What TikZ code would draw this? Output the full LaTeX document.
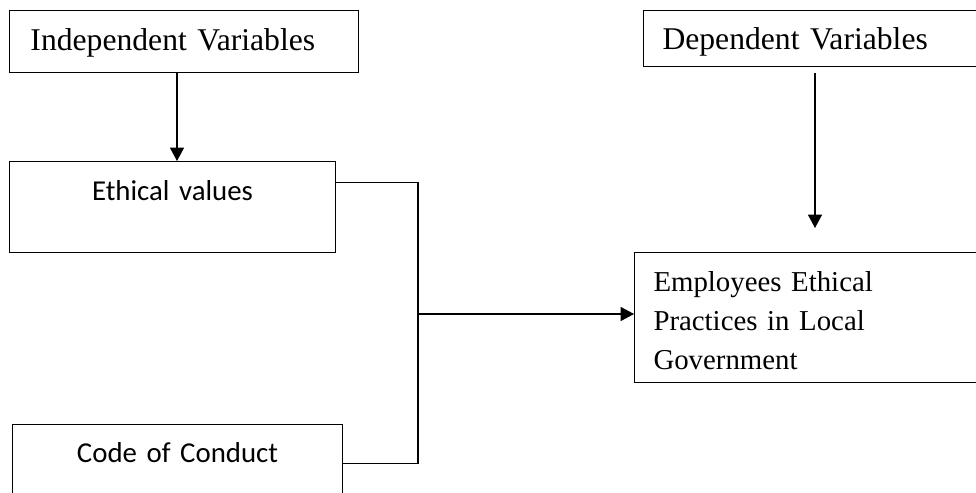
\documentclass[tikz,border=0pt]{standalone}
\usepackage{fontspec}
\setmainfont{Liberation Serif}
\newfontfamily\calibri{Carlito}
\usetikzlibrary{arrows.meta, positioning}

\begin{document}
\begin{tikzpicture}[
    x=0.025cm, y=-0.025cm,
    varbox/.style={draw, line width=0.7pt, inner ysep=0pt, inner xsep=0.5cm, align=left,
      anchor=north west, font=\fontsize{22.5}{27}\selectfont},
    factor/.style={draw, line width=0.7pt, inner sep=0pt, align=center,
      anchor=north west, font=\calibri\fontsize{20.5}{25}\selectfont},
    outcome/.style={varbox, font=\fontsize{20.5}{27.7}\selectfont},
    link/.style={line width=0.75pt},
    arr/.style={link, -{Triangle[length=9.5pt,width=10pt]}}
  ]
  \useasboundingbox (0,0) rectangle (976,493);

  % variable headers
  \node[varbox, inner xsep=0.525cm, text width=7.675cm, text height=1.0cm, text depth=0.55cm] (iv) at (9,10) {Independent Variables};
  \node[varbox, inner xsep=0.475cm, text width=8.0cm, text height=0.975cm, text depth=0.425cm] (dv) at (643,10) {Dependent Variables};

  % factors
  \node[factor, text width=8.15cm, text height=0.975cm, text depth=1.3cm] (ev) at (9,161) {Ethical values};
  \node[factor, text width=8.25cm, text height=0.95cm, text depth=1.0cm] (cc) at (12,424) {Code of Conduct};

  % outcome
  \node[outcome, inner xsep=0.475cm, text width=8.2cm, text height=0.9675cm, text depth=2.2825cm] (emp) at (634,252)
    {Employees Ethical\\Practices in Local\\Government};

  \coordinate (ivx) at (177,0);
  \coordinate (dvx) at (815,0);
  \coordinate (jn) at (418,314);

  \draw[arr] (iv.south -| ivx) -- (ev.north -| ivx);
  \draw[arr, shorten <=0.15cm, shorten >=0.6cm] (dv.south -| dvx) -- (emp.north -| dvx);
  \draw[link] ([yshift=0.6125cm]ev.east) -| (jn) |- (cc.east);
  \draw[arr] (jn) -- (jn -| emp.west);
\end{tikzpicture}
\end{document}
